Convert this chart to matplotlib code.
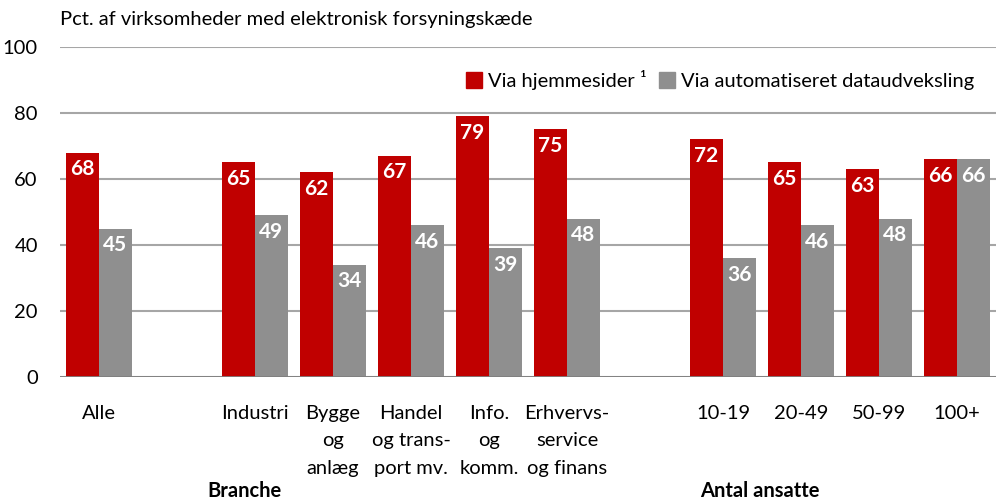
import numpy as np
import matplotlib
matplotlib.use('Agg')
import matplotlib.pyplot as plt
from matplotlib.patches import Patch

plt.rcParams['font.family'] = ['Lato', 'DejaVu Sans']

categories = ['Alle', 'Industri', 'Bygge\nog\nanlæg', 'Handel\nog trans-\nport mv.',
              'Info.\nog\nkomm.', 'Erhvervs-\nservice\nog finans',
              '10-19', '20-49', '50-99', '100+']
slots = [0, 2, 3, 4, 5, 6, 8, 9, 10, 11]
hjemmesider = [68, 65, 62, 67, 79, 75, 72, 65, 63, 66]
dataudveksling = [45, 49, 34, 46, 39, 48, 36, 46, 48, 66]
groups = ['Branche', 'Antal ansatte']
group_pos = [1.87, 8.47]

red = '#c00000'
grey = '#8f8f8f'

fig = plt.figure(figsize=(9.99, 4.99), dpi=100)
ax = fig.add_axes([60 / 999, 1 - 377 / 499, 936 / 999, 330 / 499])

x = np.array(slots)
w = 0.42
b1 = ax.bar(x - w / 2, hjemmesider, w, color=red, zorder=3)
b2 = ax.bar(x + w / 2, dataudveksling, w, color=grey, zorder=3)

for bars in (b1, b2):
    for r in bars:
        ax.text(r.get_x() + r.get_width() / 2, r.get_height() - 2.0,
                f'{r.get_height():.0f}', ha='center', va='top',
                color='white', fontsize=15, fontweight='bold', zorder=4)

ax.set_xlim(-0.5, 11.5)
ax.set_ylim(0, 100)
ax.set_yticks(range(0, 101, 20))
ax.grid(axis='y', color='#a6a6a6', linewidth=1.5, zorder=0)
ax.axhline(0, color='#7f7f7f', linewidth=2, zorder=5)
for s in ax.spines.values():
    s.set_visible(False)
ax.tick_params(axis='both', length=0, labelsize=14.5)
ax.tick_params(axis='y', pad=16)
ax.set_xticks(x)
ax.set_xticklabels(categories, linespacing=1.75, va='top')
ax.tick_params(axis='x', pad=20)

for g, p in zip(groups, group_pos):
    ax.text(p, -34.5, g, ha='center', va='center', fontsize=14.5, fontweight='bold',
            transform=ax.transData, clip_on=False)

fig.text(60 / 999, 1 - 20 / 499, 'Pct. af virksomheder med elektronisk forsyningskæde',
         fontsize=14.5, va='center', ha='left')

handles = [Patch(color=red, label='Via hjemmesider ¹'),
           Patch(color=grey, label='Via automatiseret dataudveksling')]
ax.legend(handles=handles, loc='upper right', bbox_to_anchor=(0.985, 0.955), ncol=2,
          frameon=False, fontsize=14.5, handlelength=0.8, handleheight=0.8,
          handletextpad=0.3, columnspacing=0.6, borderaxespad=0)

fig.savefig('out.png', dpi=100)
